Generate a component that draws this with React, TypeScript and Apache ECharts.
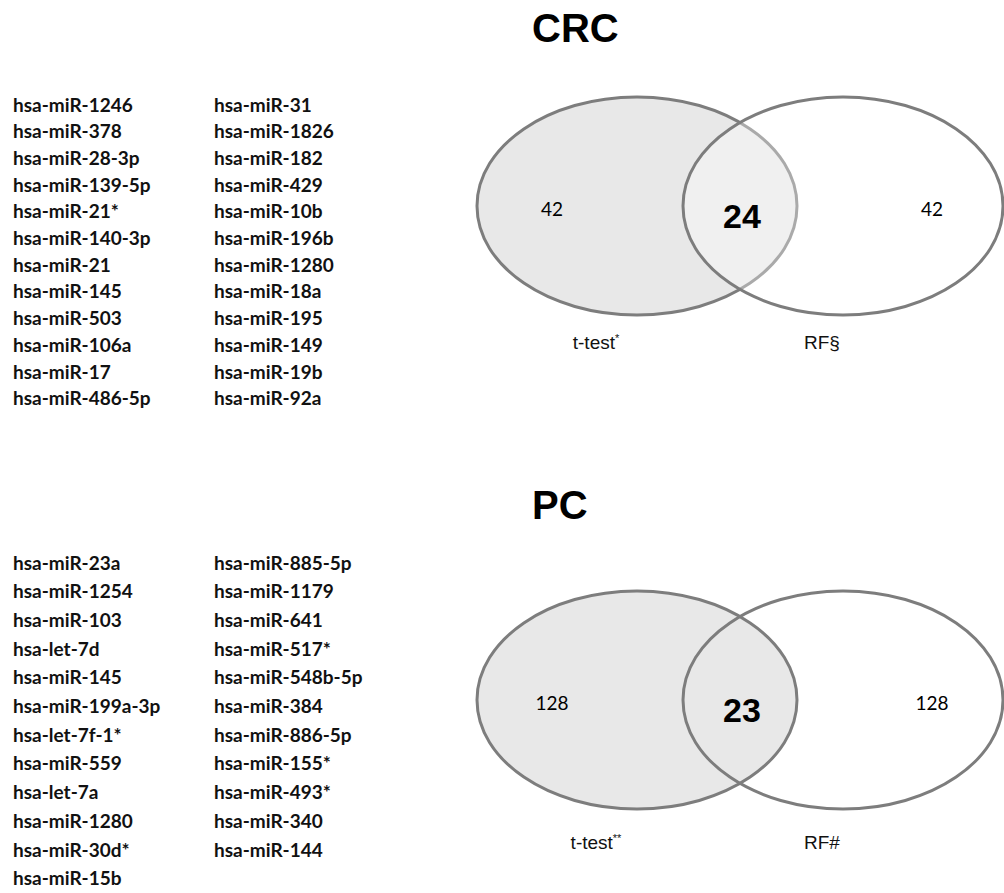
import React, { useEffect, useRef } from "react";
import * as echarts from "echarts";

// ---------- data ----------
const crcTitle = "CRC";
const pcTitle = "PC";

const crcListA = [
  "hsa-miR-1246", "hsa-miR-378", "hsa-miR-28-3p", "hsa-miR-139-5p", "hsa-miR-21*",
  "hsa-miR-140-3p", "hsa-miR-21", "hsa-miR-145", "hsa-miR-503", "hsa-miR-106a",
  "hsa-miR-17", "hsa-miR-486-5p",
];
const crcListB = [
  "hsa-miR-31", "hsa-miR-1826", "hsa-miR-182", "hsa-miR-429", "hsa-miR-10b",
  "hsa-miR-196b", "hsa-miR-1280", "hsa-miR-18a", "hsa-miR-195", "hsa-miR-149",
  "hsa-miR-19b", "hsa-miR-92a",
];
const pcListA = [
  "hsa-miR-23a", "hsa-miR-1254", "hsa-miR-103", "hsa-let-7d", "hsa-miR-145",
  "hsa-miR-199a-3p", "hsa-let-7f-1*", "hsa-miR-559", "hsa-let-7a", "hsa-miR-1280",
  "hsa-miR-30d*", "hsa-miR-15b",
];
const pcListB = [
  "hsa-miR-885-5p", "hsa-miR-1179", "hsa-miR-641", "hsa-miR-517*", "hsa-miR-548b-5p",
  "hsa-miR-384", "hsa-miR-886-5p", "hsa-miR-155*", "hsa-miR-493*", "hsa-miR-340",
  "hsa-miR-144",
];

// [left only, both, right only]
const crcCounts = [42, 24, 42];
const pcCounts = [128, 23, 128];

// set labels: [name, superscript]
const crcSets = [["t-test", "*"], ["RF§", ""]];
const pcSets = [["t-test", "**"], ["RF#", ""]];

// ---------- layout ----------
const LIST_FONT = "Lato";
const SANS = "'Liberation Sans', Arial, sans-serif";

function listGraphics(colA: string[], colB: string[], y0: number, step: number) {
  const els: any[] = [];
  const cols: [string[], number][] = [[colA, 13], [colB, 214]];
  cols.forEach(([arr, x]) => {
    arr.forEach((t, i) => {
      els.push({
        type: "text",
        x,
        y: y0 + i * step,
        style: {
          text: t,
          fontFamily: LIST_FONT,
          fontWeight: "bold",
          fontSize: 19,
          fill: "#111",
          align: "left",
          verticalAlign: "middle",
        },
      });
    });
  });
  return els;
}

function vennGraphics(
  title: string,
  titleY: number,
  cy: number,
  counts: number[],
  sets: string[][],
  labelY: number,
  translucentRight: boolean
) {
  const rx = 160, ry = 109;
  const lcx = 637, rcx = 843;
  const els: any[] = [];
  els.push({
    type: "text",
    x: 532,
    y: titleY,
    style: {
      text: title,
      fontFamily: SANS,
      fontWeight: "bold",
      fontSize: 40,
      fill: "#000",
      align: "left",
      verticalAlign: "bottom",
    },
  });
  els.push({
    type: "ellipse",
    shape: { cx: lcx, cy, rx, ry },
    style: { fill: "#e8e8e8", stroke: "#7d7d7d", lineWidth: 3 },
  });
  els.push({
    type: "ellipse",
    shape: { cx: rcx, cy, rx, ry },
    style: {
      fill: translucentRight ? "rgba(255,255,255,0.35)" : "none",
      stroke: "#7d7d7d",
      lineWidth: 3,
    },
  });
  const xs = [552, 742, 932];
  counts.forEach((c, i) => {
    const mid = i === 1;
    els.push({
      type: "text",
      x: xs[i],
      y: cy + (mid ? 10 : 2),
      style: {
        text: String(c),
        fontFamily: mid ? SANS : LIST_FONT,
        fontWeight: mid ? "bold" : "normal",
        fontSize: mid ? 34 : 19,
        fill: "#000",
        align: "center",
        verticalAlign: "middle",
      },
    });
  });
  const lx = [596, 822];
  sets.forEach(([name, sup], i) => {
    els.push({
      type: "text",
      x: lx[i],
      y: labelY,
      style: {
        text: sup ? `{n|${name}}{s|${sup}}` : `{n|${name}}`,
        align: "center",
        verticalAlign: "middle",
        rich: {
          n: { fontFamily: SANS, fontSize: 19, fill: "#111" },
          s: { fontFamily: SANS, fontSize: 11, fill: "#111", padding: [0, 0, 9, 0] },
        },
      },
    });
  });
  return els;
}

export default function App() {
  const ref = useRef<HTMLDivElement>(null);
  useEffect(() => {
    document.body.style.margin = "0";
    const chart = echarts.init(ref.current!, null, { renderer: "svg" });
    const graphic = [
      ...listGraphics(crcListA, crcListB, 104, 26.7),
      ...listGraphics(pcListA, pcListB, 562, 28.7),
      ...vennGraphics(crcTitle, 48, 206, crcCounts, crcSets, 342, true),
      ...vennGraphics(pcTitle, 525, 700, pcCounts, pcSets, 842, false),
    ];
    chart.setOption({
      animation: false,
      backgroundColor: "#ffffff",
      graphic: { elements: graphic },
    });
    return () => chart.dispose();
  }, []);
  return <div ref={ref} style={{ width: 1004, height: 893 }} />;
}
